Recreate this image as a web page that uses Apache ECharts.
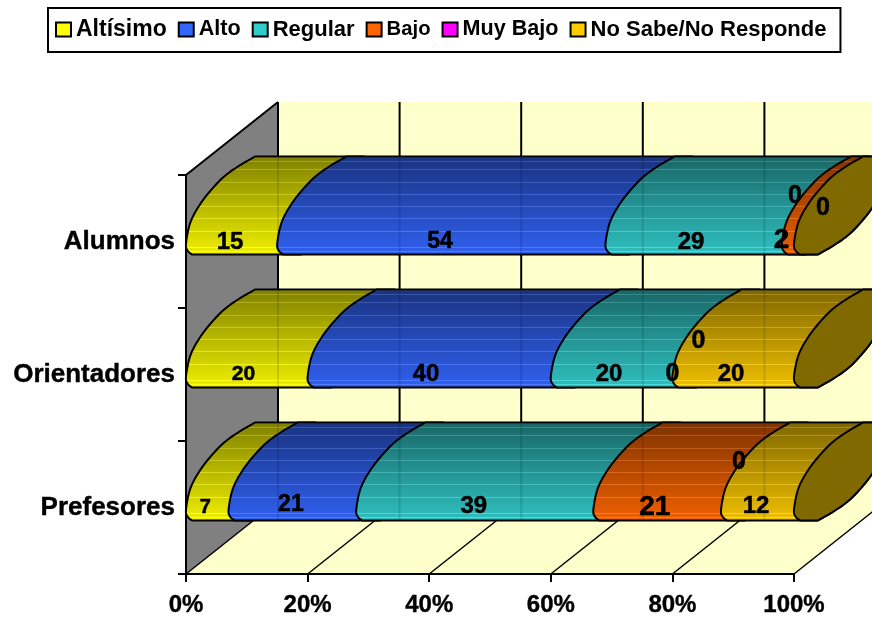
<!DOCTYPE html>
<html>
<head>
<meta charset="utf-8">
<style>html,body{margin:0;padding:0;background:#fff}#c{width:872px;height:618px}</style>
<script src="https://cdn.jsdelivr.net/npm/echarts@6/dist/echarts.min.js"></script>
</head>
<body>
<div id="c"></div>
<script>
// ---- data (bottom row first, as the category axis runs upward)
var categories = ['Prefesores', 'Orientadores', 'Alumnos'];
var seriesNames = ['Altísimo', 'Alto', 'Regular', 'Bajo', 'Muy Bajo', 'No Sabe/No Responde'];
var altisimo = [7, 20, 15];
var alto = [21, 40, 54];
var regular = [39, 20, 29];
var bajo = [21, 0, 2];
var muyBajo = [0, 0, 0];
var noSabe = [12, 20, 0];
var xTicks = [0, 20, 40, 60, 80, 100];

var allValues = [altisimo, alto, regular, bajo, muyBajo, noSabe];
var baseColors = ['#ffff00', '#3366ff', '#33cccc', '#ff6600', '#ff00ff', '#ffcc00'];

// ---- style and placement
var FONT = '"Liberation Sans", Arial, sans-serif';
var DEPTH_X = 92, DEPTH_Y = -73;      // floor / wall depth in pixels
var ROW_BOTTOM = 13;                  // bar bottom below the band centre
var BAR_H = 98;
var capLeft = [[6,0],[1.5,-4],[0,-11],[4,-31],[12,-47],[23,-62],[37,-77],[52,-88],[69,-98]];
var capRight = capLeft.map(function (p) { return [93 - p[0], -BAR_H - p[1]]; });
var stripes = [158.3, 162, 170, 182, 194, 206, 218, 230, 246, 250];
// label tweak by row then series: [dx, dy, font size]
var labelTweaks = [
  [[-2,-2,20],[-1.5,-4,23],[-1,-2.5,24],[-2.5,-2,28],[18,-46.5,25],[-1.5,-2.5,24]],
  [[-3.3,-1.5,21],[-3.2,-1.5,24],[-2.6,-2,24],[0,-2,25],[26,-34.5,25],[-2.2,-1.5,24]],
  [[-1.6,-0.5,24],[-1.4,-1.5,23],[-2.7,-0.5,24],[-6.5,-2.5,28],[1,-46.5,25],[29,-34.5,25]]
];

function smoothLine(pts) {
  var out = [];
  for (var i = 0; i < pts.length - 1; i++) {
    var p0 = pts[Math.max(i - 1, 0)], p1 = pts[i], p2 = pts[i + 1], p3 = pts[Math.min(i + 2, pts.length - 1)];
    for (var k = 0; k < 6; k++) {
      var t = k / 6, t2 = t * t, t3 = t2 * t;
      out.push([
        0.5 * (2*p1[0] + (p2[0]-p0[0])*t + (2*p0[0]-5*p1[0]+4*p2[0]-p3[0])*t2 + (3*p1[0]-p0[0]-3*p2[0]+p3[0])*t3),
        0.5 * (2*p1[1] + (p2[1]-p0[1])*t + (2*p0[1]-5*p1[1]+4*p2[1]-p3[1])*t2 + (3*p1[1]-p0[1]-3*p2[1]+p3[1])*t3)
      ]);
    }
  }
  out.push(pts[pts.length - 1]);
  return out;
}
var leftEdge = smoothLine(capLeft);            // bottom -> top
var rightEdge = smoothLine(capRight);          // top -> bottom

function hex(c) { return [parseInt(c.substr(1,2),16), parseInt(c.substr(3,2),16), parseInt(c.substr(5,2),16)]; }
function shade(rgb, f, lift) {
  return 'rgb(' + rgb.map(function (v) { return Math.min(255, Math.round(v * f + lift)); }).join(',') + ')';
}
function barFill(color) {
  var rgb = hex(color), stops = [];
  function at(p) { return 0.5 + 0.44 * p; }
  stops.push({ offset: 0, color: shade(rgb, at(0), 0) });
  stripes.forEach(function (y) {
    var p = (y - 156) / BAR_H, w = 0.5 / BAR_H;
    stops.push({ offset: p - w, color: shade(rgb, at(p), 0) });
    stops.push({ offset: p - w + 0.0005, color: shade(rgb, at(p), 30) });
    stops.push({ offset: p + w, color: shade(rgb, at(p), 30) });
    stops.push({ offset: p + w + 0.0005, color: shade(rgb, at(p), 0) });
  });
  stops.push({ offset: 1, color: shade(rgb, at(1), 0) });
  return { type: 'linear', x: 0, y: 0, x2: 0, y2: 1, colorStops: stops };
}

function startOf(seriesIdx, row) {
  var s = 0;
  for (var i = 0; i < seriesIdx; i++) s += allValues[i][row];
  return s;
}
function outline(x0, x1, yb) {
  var pts = [];
  leftEdge.forEach(function (p) { pts.push([x0 + p[0], yb + p[1]]); });
  rightEdge.forEach(function (p) { pts.push([x1 + p[0], yb + p[1]]); });
  return pts;
}

function barSeries(idx) {
  return {
    type: 'custom', name: seriesNames[idx], coordinateSystem: 'cartesian2d', z: 3 + idx,
    itemStyle: { color: baseColors[idx] }, silent: true,
    data: allValues[idx].map(function (v, row) { return [v, row]; }),
    encode: { x: 0, y: 1 },
    renderItem: function (params, api) {
      var row = api.value(1), v = api.value(0);
      if (!v) return null;
      var s = startOf(idx, row);
      var a = api.coord([s, row]), b = api.coord([s + v, row]);
      return {
        type: 'polygon',
        shape: { points: outline(a[0], b[0], a[1] + ROW_BOTTOM) },
        style: { fill: barFill(baseColors[idx]), stroke: '#000', lineWidth: 2, lineJoin: 'round' }
      };
    }
  };
}

var wallSeries = {
  type: 'custom', name: 'walls', coordinateSystem: 'cartesian2d', z: 0, silent: true,
  data: [[0, 0]], encode: { x: 0, y: 1 },
  renderItem: function (params, api) {
    var band = api.size([0, 1])[1];
    var first = api.coord([0, 0]), last = api.coord([0, categories.length - 1]), end = api.coord([100, 0]);
    var lo = [first[0], first[1] + band / 2], hi = [first[0], last[1] - band / 2], r = [end[0], lo[1]];
    var ln = { stroke: '#000', lineWidth: 2 };
    var kids = [
      { type: 'polygon', shape: { points: [[lo[0] + DEPTH_X, hi[1] + DEPTH_Y], [r[0] + DEPTH_X, hi[1] + DEPTH_Y], [r[0] + DEPTH_X, lo[1] + DEPTH_Y], [lo[0] + DEPTH_X, lo[1] + DEPTH_Y]] }, style: { fill: '#ffffcc' } },
      { type: 'polygon', shape: { points: [lo, r, [r[0] + DEPTH_X, r[1] + DEPTH_Y], [lo[0] + DEPTH_X, lo[1] + DEPTH_Y]] }, style: { fill: '#ffffcc' } },
      { type: 'polygon', shape: { points: [lo, hi, [hi[0] + DEPTH_X, hi[1] + DEPTH_Y], [lo[0] + DEPTH_X, lo[1] + DEPTH_Y]] }, style: { fill: '#808080' } },
      { type: 'line', shape: { x1: hi[0], y1: hi[1], x2: hi[0] + DEPTH_X, y2: hi[1] + DEPTH_Y }, style: ln }
    ];
    xTicks.forEach(function (t) {
      var x = api.coord([t, 0])[0];
      kids.push({ type: 'line', shape: { x1: x + DEPTH_X, y1: hi[1] + DEPTH_Y, x2: x + DEPTH_X, y2: lo[1] + DEPTH_Y }, style: ln });
      kids.push({ type: 'line', shape: { x1: x, y1: lo[1], x2: x + DEPTH_X, y2: lo[1] + DEPTH_Y }, style: { stroke: '#000', lineWidth: 1.5 } });
    });
    return { type: 'group', children: kids };
  }
};

var capSeries = {
  type: 'custom', name: 'cap', coordinateSystem: 'cartesian2d', z: 10, silent: true,
  data: categories.map(function (c, row) { return [startOf(6, row), row]; }),
  encode: { x: 0, y: 1 },
  renderItem: function (params, api) {
    var row = api.value(1), a = api.coord([api.value(0), row]), yb = a[1] + ROW_BOTTOM;
    return {
      type: 'polygon',
      shape: { points: outline(a[0], a[0], yb) },
      style: { fill: '#806a00', stroke: '#000', lineWidth: 2, lineJoin: 'round' }
    };
  }
};

// faint trace of the wall lines through the bars
var traceSeries = {
  type: 'custom', name: 'trace', coordinateSystem: 'cartesian2d', z: 11, silent: true,
  data: [].concat.apply([], categories.map(function (c, row) {
    return xTicks.slice(0, 5).map(function (t) { return [t, row]; });
  })),
  encode: { x: 0, y: 1 },
  renderItem: function (params, api) {
    var a = api.coord([api.value(0), api.value(1)]), yb = a[1] + ROW_BOTTOM;
    return {
      type: 'line',
      shape: { x1: a[0] + DEPTH_X, y1: yb - BAR_H + 1, x2: a[0] + DEPTH_X, y2: yb - 1 },
      style: { stroke: 'rgba(0,0,0,0.12)', lineWidth: 2 }
    };
  }
};

var labelData = [];
allValues.forEach(function (vals, idx) {
  vals.forEach(function (v, row) { labelData.push([startOf(idx, row) + v / 2, row, v, idx]); });
});
var labelSeries = {
  type: 'custom', name: 'labels', coordinateSystem: 'cartesian2d', z: 20, silent: true,
  data: labelData, encode: { x: 0, y: 1 },
  renderItem: function (params, api) {
    var row = api.value(1), idx = api.value(3), p = api.coord([api.value(0), row]);
    var tw = labelTweaks[row][idx];
    return {
      type: 'text',
      style: {
        x: p[0] + tw[0], y: p[1] + tw[1] + 1.5, text: String(api.value(2)),
        align: 'center', verticalAlign: 'middle', fill: '#000',
        stroke: '#000', lineWidth: 0.5,
        font: 'bold ' + tw[2] + 'px ' + FONT
      }
    };
  }
};

var legendSizes = [23, 21.6, 22, 20.3, 21.6, 22];
var series = [wallSeries].concat(seriesNames.map(function (n, i) { return barSeries(i); }), [capSeries, traceSeries, labelSeries]);

var chart = echarts.init(document.getElementById('c'), null, { renderer: 'canvas' });
chart.setOption({
  animation: false,
  backgroundColor: '#fff',
  legend: {
    left: 48, top: 8, padding: [10, 14, 11, 7], itemGap: 11, itemWidth: 15, itemHeight: 14,
    borderColor: '#000', borderWidth: 2, backgroundColor: '#fff', icon: 'rect', selectedMode: false,
    itemStyle: { borderColor: '#000', borderWidth: 2 },
    textStyle: { color: '#000', fontWeight: 'bold', fontFamily: FONT, fontSize: 22 },
    data: seriesNames.map(function (n, i) { return { name: n, textStyle: { fontSize: legendSizes[i], fontWeight: 'bold', fontFamily: FONT, color: '#000' } }; })
  },
  grid: { left: 186, right: 78, top: 175, bottom: 44 },
  xAxis: {
    type: 'value', min: 0, max: 100, interval: 20, z: 1,
    splitLine: { show: false },
    axisLine: { show: true, lineStyle: { color: '#000', width: 2 } },
    axisTick: { show: true, length: 8, lineStyle: { color: '#000', width: 2 } },
    axisLabel: { formatter: '{value}%', color: '#000', fontWeight: 'bold', fontFamily: FONT, fontSize: 24, margin: 19, textBorderColor: '#000', textBorderWidth: 0.4 }
  },
  yAxis: {
    type: 'category', data: categories, z: 1,
    axisLine: { show: true, lineStyle: { color: '#000', width: 2 } },
    axisTick: { show: true, length: 8, lineStyle: { color: '#000', width: 2 } },
    axisLabel: { color: '#000', fontWeight: 'bold', fontFamily: FONT, fontSize: 26, margin: 11, padding: [3, 0, 0, 0], textBorderColor: '#000', textBorderWidth: 0.4 }
  },
  series: series
});
</script>
</body>
</html>
